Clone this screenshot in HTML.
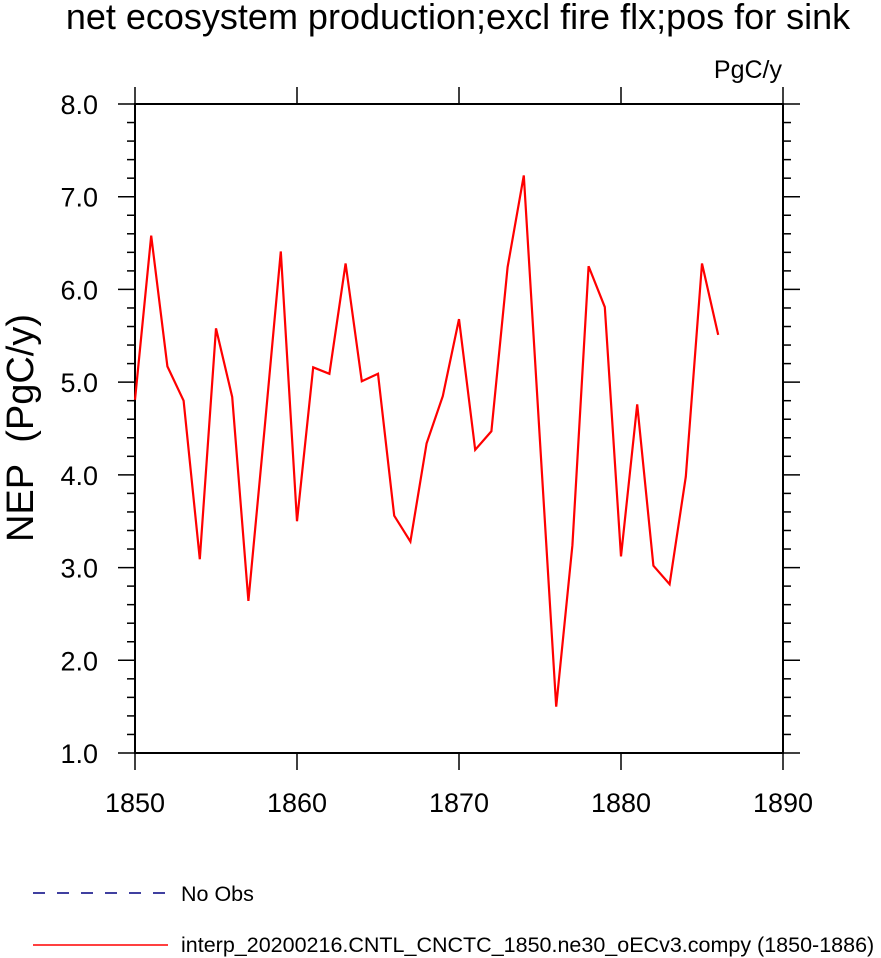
<!DOCTYPE html>
<html><head><meta charset="utf-8">
<style>
body{margin:0;background:#fff;}
svg{display:block;font-family:"Liberation Sans",Arial,sans-serif;}
</style></head>
<body>
<svg id="chart" width="881" height="958" viewBox="0 0 881 958" xmlns="http://www.w3.org/2000/svg">
<text x="458" y="29" font-size="36" text-anchor="middle">net ecosystem production;excl fire flx;pos for sink</text>
<text x="782" y="78" font-size="25" text-anchor="end">PgC/y</text>
<text transform="translate(33,428) rotate(-90)" font-size="38" text-anchor="middle">NEP&#160; (PgC/y)</text>
<rect x="135" y="104" width="648" height="649" fill="none" stroke="#000" stroke-width="2"/>
<g id="axes"></g>
<polyline id="series" fill="none" stroke="#ff0000" stroke-width="2.2"/>
<line x1="33" y1="893" x2="168" y2="893" stroke="#000080" stroke-width="1.5" stroke-dasharray="12,12"/>
<text x="181" y="901" font-size="21.5">No Obs</text>
<line x1="33" y1="945" x2="168" y2="945" stroke="#ff0000" stroke-width="1.5"/>
<text x="181" y="952" font-size="21.5">interp_20200216.CNTL_CNCTC_1850.ne30_oECv3.compy (1850-1886)</text>
</svg>
<script>
const years = [1850,1851,1852,1853,1854,1855,1856,1857,1858,1859,1860,1861,1862,1863,1864,1865,1866,1867,1868,1869,1870,1871,1872,1873,1874,1875,1876,1877,1878,1879,1880,1881,1882,1883,1884,1885,1886];
const nepValues = [4.81,6.58,5.17,4.80,3.09,5.58,4.84,2.64,4.50,6.41,3.50,5.16,5.09,6.28,5.01,5.09,3.56,3.28,4.34,4.85,5.68,4.27,4.47,6.24,7.23,4.36,1.50,3.24,6.25,5.81,3.12,4.76,3.02,2.82,3.98,6.28,5.51];
const xTicks = [1850,1860,1870,1880,1890];
const yTicks = [1.0,2.0,3.0,4.0,5.0,6.0,7.0,8.0];
const X0=135,X1=783,Y0=753,Y1=104,XMIN=1850,XMAX=1890,YMIN=1,YMAX=8;
const xs=v=>X0+(v-XMIN)/(XMAX-XMIN)*(X1-X0);
const ys=v=>Y0-(v-YMIN)/(YMAX-YMIN)*(Y0-Y1);
const NS="http://www.w3.org/2000/svg";
const g=document.getElementById('axes');
function ln(x1,y1,x2,y2,name){const l=document.createElementNS(NS,'line');
l.setAttribute('x1',x1);l.setAttribute('y1',y1);l.setAttribute('x2',x2);l.setAttribute('y2',y2);
l.setAttribute('stroke','#000');l.setAttribute('stroke-width','1.5');


g.appendChild(l);}
function tx(x,y,s,anchor,name){const t=document.createElementNS(NS,'text');
t.setAttribute('x',x);t.setAttribute('y',y);t.setAttribute('font-size','27');t.setAttribute('text-anchor',anchor);t.textContent=s;


g.appendChild(t);}
xTicks.forEach(v=>{const x=xs(v);ln(x,Y0,x,Y0+17,'x-tick');ln(x,Y1,x,Y1-17,'x-tick-top');tx(x,812,String(v),'middle','x-tick-label');});
for(let v=YMIN;v<=YMAX+1e-9;v+=0.2){const y=ys(v);const major=Math.abs(v-Math.round(v))<1e-6;const L=major?17:8;
ln(X0,y,X0-L,y,'y-tick');ln(X1,y,X1+L,y,'y-tick-right');}
yTicks.forEach(v=>tx(98,ys(v)+10,v.toFixed(1),'end','y-tick-label'));
document.getElementById('series').setAttribute('points',years.map((y,i)=>xs(y)+','+ys(nepValues[i])).join(' '));
</script>
</body></html>
